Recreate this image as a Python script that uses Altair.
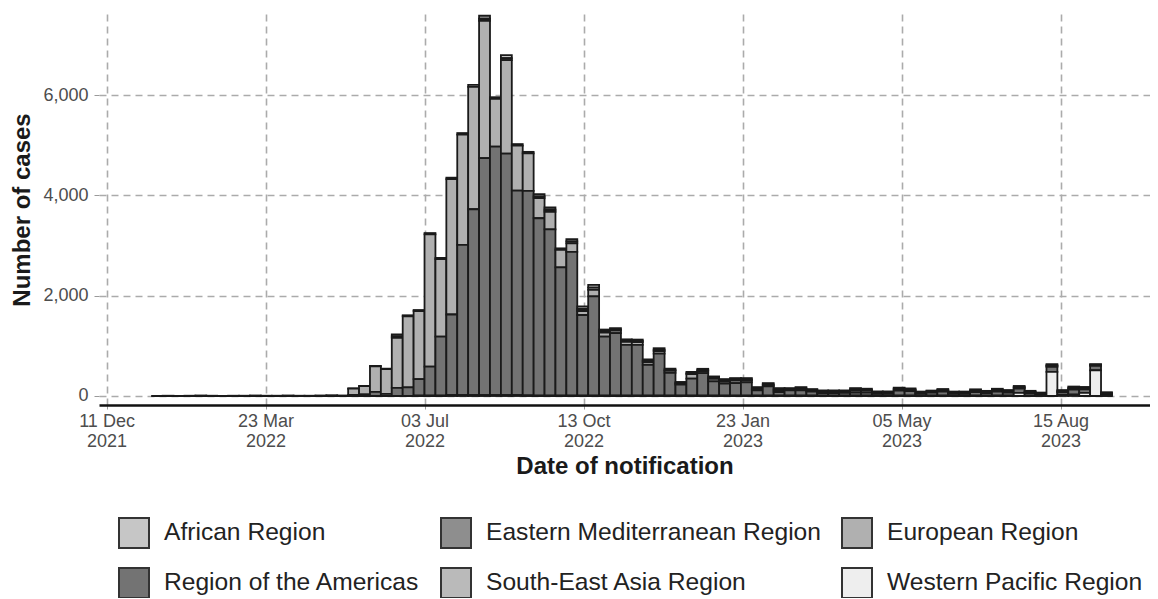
import altair as alt
import pandas as pd

# Week start dates (Sunday) from 9 Jan 2022 to 10 Sep 2023: 88 weekly bars
weeks = pd.date_range("2022-01-09", "2023-09-10", freq="7D")

regions = [
    "African Region",
    "Eastern Mediterranean Region",
    "European Region",
    "Region of the Americas",
    "South-East Asia Region",
    "Western Pacific Region",
]
colors = ["#c6c6c6", "#8e8e8e", "#b0b0b0", "#737373", "#bababa", "#eeeeee"]
# stacking order, bottom -> top
stack_rank = {
    "Western Pacific Region": 0,
    "South-East Asia Region": 1,
    "Region of the Americas": 2,
    "European Region": 3,
    "Eastern Mediterranean Region": 4,
    "African Region": 5,
}

# 18 early weeks (9 Jan - 8 May 2022) with only a handful of cases
early_zero = [0] * 18
early_african = [0, 5, 0, 5, 10, 5, 0, 5, 5, 10, 5, 5, 10, 5, 5, 10, 15, 10]

# From 15 May 2022 to 10 Sep 2023 (70 weeks)
americas = early_zero + [
    20, 30, 80, 40, 160, 170, 330, 580, 1180, 1610,
    3000, 3710, 4730, 4960, 4820, 4080, 4080, 3540, 3320, 2560,
    2870, 1610, 1980, 1180, 1250, 1015, 1015, 617, 840, 455,
    220, 340, 450, 285, 240, 252, 265, 106, 186, 73,
    106, 106, 80, 53, 53, 55, 60, 60, 40, 40,
    100, 90, 40, 60, 80, 40, 40, 70, 50, 80,
    60, 85, 50, 30, 100, 50, 100, 70, 90, 30,
]
european = early_zero + [
    125, 165, 510, 495, 1000, 1420, 1360, 2640, 1545, 2700,
    2200, 2440, 2740, 950, 1865, 900, 750, 400, 350, 350,
    170, 80, 130, 80, 50, 60, 55, 50, 50, 40,
    20, 90, 40, 50, 40, 50, 40, 20, 20, 30,
    10, 20, 15, 15, 15, 15, 40, 40, 10, 10,
    25, 20, 10, 15, 20, 10, 10, 20, 15, 20,
    20, 20, 15, 10, 20, 15, 20, 15, 20, 10,
]
african = early_african + [
    5, 5, 10, 10, 40, 20, 20, 25, 25, 30,
    30, 40, 60, 35, 60, 30, 30, 45, 45, 30,
    45, 50, 55, 30, 25, 25, 25, 30, 30, 25,
    20, 25, 25, 25, 25, 25, 25, 25, 25, 25,
    20, 25, 20, 20, 20, 20, 25, 20, 20, 20,
    20, 20, 18, 15, 20, 18, 18, 20, 18, 22,
    20, 20, 18, 13, 20, 18, 23, 20, 10, 15,
]
eastern_med = early_zero + [
    0, 0, 0, 0, 30, 0, 0, 0, 0, 0,
    0, 0, 40, 0, 40, 0, 0, 35, 40, 0,
    40, 40, 45, 30, 25, 25, 25, 28, 28, 20,
    15, 20, 22, 25, 27, 25, 22, 21, 21, 24,
    16, 21, 18, 18, 18, 16, 27, 20, 16, 16,
    16, 16, 15, 13, 14, 15, 15, 18, 14, 17,
    14, 15, 15, 10, 15, 15, 20, 15, 5, 15,
]
south_east_asia = early_zero + [
    0, 0, 0, 0, 0, 0, 0, 0, 0, 5,
    5, 5, 5, 5, 5, 5, 5, 0, 0, 0,
    0, 0, 0, 0, 0, 0, 0, 0, 0, 0,
    0, 0, 0, 0, 0, 0, 0, 0, 0, 0,
    0, 0, 0, 0, 0, 0, 0, 0, 0, 0,
    0, 0, 0, 0, 0, 0, 0, 0, 0, 0,
    0, 0, 0, 0, 0, 0, 0, 0, 0, 0,
]
western_pacific = early_zero + [
    0, 0, 0, 0, 0, 0, 5, 5, 5, 10,
    10, 10, 10, 10, 10, 10, 5, 5, 5, 5,
    5, 5, 5, 5, 5, 5, 5, 5, 5, 5,
    5, 5, 5, 5, 5, 5, 5, 5, 5, 5,
    5, 5, 5, 5, 5, 5, 5, 5, 5, 5,
    5, 5, 5, 5, 5, 5, 5, 5, 5, 5,
    5, 60, 5, 5, 480, 20, 25, 60, 510, 5,
]

series = {
    "African Region": african,
    "Eastern Mediterranean Region": eastern_med,
    "European Region": european,
    "Region of the Americas": americas,
    "South-East Asia Region": south_east_asia,
    "Western Pacific Region": western_pacific,
}

tick_dates = [
    alt.DateTime(year=2021, month=12, date=11, utc=True),
    alt.DateTime(year=2022, month=3, date=23, utc=True),
    alt.DateTime(year=2022, month=7, date=3, utc=True),
    alt.DateTime(year=2022, month=10, date=13, utc=True),
    alt.DateTime(year=2023, month=1, date=23, utc=True),
    alt.DateTime(year=2023, month=5, date=5, utc=True),
    alt.DateTime(year=2023, month=8, date=15, utc=True),
]

rows = []
for i, wk in enumerate(weeks):
    for r in regions:
        rows.append({
            "week": wk.strftime("%Y-%m-%d"),
            "week_end": (wk + pd.Timedelta(days=7)).strftime("%Y-%m-%d"),
            "region": r,
            "rank": stack_rank[r],
            "cases": series[r][i],
        })
df = pd.DataFrame(rows)

FONT = "Liberation Sans"

chart = alt.Chart(df).transform_stack(
    stack="cases",
    groupby=["week"],
    as_=["y0", "y1"],
    sort=[alt.SortField("rank", order="ascending")],
).mark_bar(
    stroke="#1a1a1a", strokeWidth=1.8, opacity=1
).encode(
    x=alt.X(
        "week:T",
        title="Date of notification",
        scale=alt.Scale(
            type="utc",
            domain=[
                alt.DateTime(year=2021, month=12, date=6, hours=4, utc=True),
                alt.DateTime(year=2023, month=10, date=11, hours=10, utc=True),
            ],
        ),
        axis=alt.Axis(
            values=tick_dates,
            labelExpr="[utcFormat(datum.value, '%d %b'), utcFormat(datum.value, '%Y')]",
            labelFontSize=18,
            labelLineHeight=20,
            labelColor="#4d4d4d",
            labelPadding=3,
            tickSize=4,
            tickColor="#9a9a9a",
            domainColor="#111111",
            domainWidth=2.6,
            titleFontSize=24,
            titleFontWeight="bold",
            titleColor="#1a1a1a",
            titlePadding=4,
        ),
    ),
    x2="week_end:T",
    y=alt.Y(
        "y0:Q",
        title="Number of cases",
        scale=alt.Scale(domain=[-180, 7620], nice=False, zero=False),
        axis=alt.Axis(
            values=[0, 2000, 4000, 6000],
            format=",.0f",
            labelFontSize=18,
            labelColor="#4d4d4d",
            labelPadding=6,
            tickSize=5,
            tickColor="#9a9a9a",
            domain=False,
            titleFontSize=24,
            titleFontWeight="bold",
            titleColor="#1a1a1a",
            titlePadding=8,
        ),
    ),
    y2="y1:Q",
    color=alt.Color(
        "region:N",
        scale=alt.Scale(domain=regions, range=colors),
        legend=alt.Legend(
            title=None,
            orient="none",
            legendX=19,
            legendY=503,
            columns=3,
            direction="horizontal",
            symbolType="square",
            symbolSize=900,
            symbolStrokeColor="#333333",
            symbolStrokeWidth=2,
            symbolOpacity=1,
            labelFontSize=24.6,
            labelColor="#222222",
            labelFont=FONT,
            labelOffset=14,
            labelLimit=0,
            columnPadding=17,
            rowPadding=12,
            padding=0,
            gridAlign="each",
        ),
    ),
).properties(
    width=1051,
    height=391,
    autosize=alt.AutoSizeParams(type="none"),
    padding={"left": 91, "top": 6, "right": 0, "bottom": 193},
).configure_view(
    stroke=None
).configure_axis(
    grid=True,
    gridDash=[7, 5],
    gridColor="#ababab",
    gridWidth=1.6,
    labelFont=FONT,
    titleFont=FONT,
)

chart.save("out.html", embed_options={"renderer": "svg", "actions": False})
